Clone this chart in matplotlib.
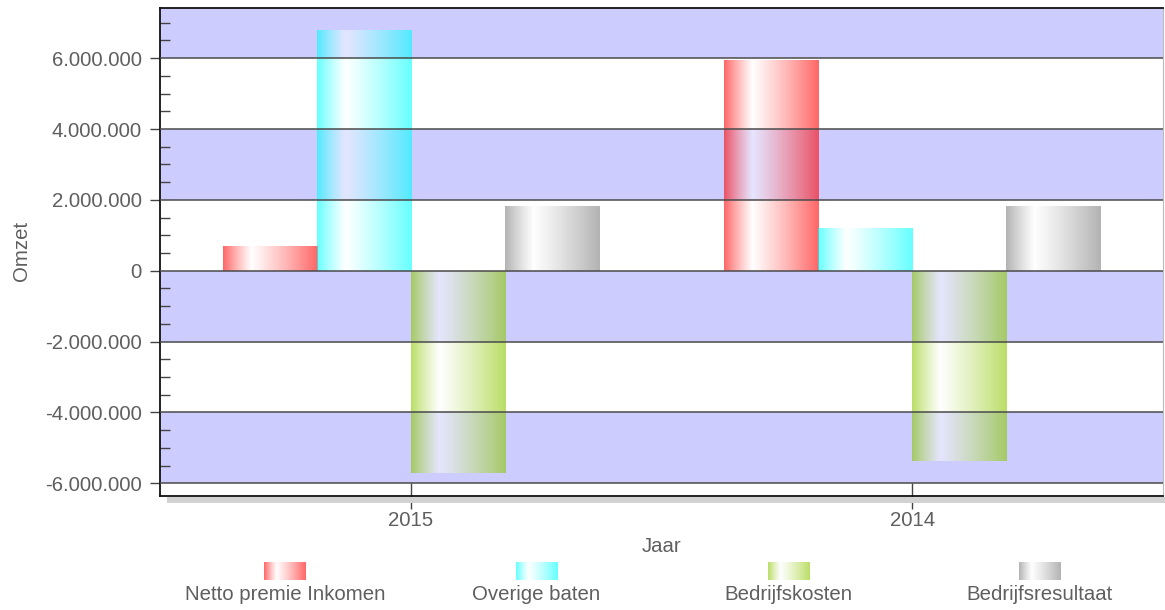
import numpy as np
import matplotlib
matplotlib.use("Agg")
import matplotlib.pyplot as plt
from matplotlib.patches import Rectangle
from matplotlib.ticker import FuncFormatter, MultipleLocator

# ---- data ----
years = ["2015", "2014"]
series_names = ["Netto premie Inkomen", "Overige baten", "Bedrijfskosten", "Bedrijfsresultaat"]
netto_premie = [700000, 5950000]
overige_baten = [6800000, 1205000]
bedrijfskosten = [-5700000, -5360000]
bedrijfsresultaat = [1815000, 1825000]
series_values = [netto_premie, overige_baten, bedrijfskosten, bedrijfsresultaat]
series_colors = [(255, 0, 0), (0, 255, 255), (140, 200, 0), (128, 128, 128)]

major_ticks = [-6000000, -4000000, -2000000, 0, 2000000, 4000000, 6000000]
y_min, y_max = -6350000, 7430000

plt.rcParams['font.family'] = ['Liberation Sans', 'DejaVu Sans']
TXT = '#5f5f5f'
FS = 14.7
W, H = 1165, 610

fig = plt.figure(figsize=(W / 100, H / 100), dpi=100)
ax = fig.add_axes([160 / W, 1 - 495.7 / H, (1163 - 160) / W, (495.7 - 7.5) / H])


def gradient(rgb, n=200):
    c = np.array(rgb, dtype=float) / 255.0
    ca = np.append(c, 0.6)
    wa = np.array([1.0, 1.0, 1.0, 0.5])
    t = np.linspace(0, 1, n)
    img = np.zeros((1, n, 4))
    for i, tt in enumerate(t):
        if tt < 0.3:
            f = tt / 0.3
            img[0, i] = ca * (1 - f) + wa * f
        else:
            f = (tt - 0.3) / 0.7
            img[0, i] = wa * (1 - f) + ca * f
    return img


# bands
bounds = [y_min] + major_ticks + [y_max]
for i in range(len(bounds) - 1):
    if i % 2 == 1:
        ax.axhspan(bounds[i], bounds[i + 1], color='#ccccff', zorder=0, lw=0)

x = np.arange(len(years))
bw = 0.1875
for k, (vals, col) in enumerate(zip(series_values, series_colors)):
    offs = (k - 1.5) * bw
    bars = ax.bar(x + offs, vals, width=bw, color='none', edgecolor='none', zorder=2)
    for b in bars:
        x0, y0 = b.get_x(), b.get_y()
        x1, y1 = x0 + b.get_width(), y0 + b.get_height()
        ax.imshow(gradient(col), extent=[x0, x1, y0, y1], aspect='auto',
                  interpolation='bilinear', zorder=2)

# gridlines on top of bars
for t in major_ticks:
    ax.axhline(t, color='#4a4a4a', lw=1.1, zorder=3)

ax.set_xlim(-0.5, len(years) - 0.5)
ax.set_ylim(y_min, y_max)

ax.set_yticks(major_ticks)
ax.yaxis.set_minor_locator(MultipleLocator(500000))
ax.yaxis.set_major_formatter(FuncFormatter(lambda v, p: f"{v:,.0f}".replace(",", ".")))
ax.tick_params(axis='y', which='major', direction='out', length=7.2, width=1.0,
               color='#444444', labelsize=FS, labelcolor=TXT, pad=6)
ax.tick_params(axis='y', which='minor', direction='in', length=7.2, width=1.0,
               color='#444444')
ax.set_xticks(x)
ax.set_xticklabels(years)
ax.tick_params(axis='x', direction='inout', length=19.4, width=1.0, color='#444444',
               labelsize=FS, labelcolor=TXT, pad=1)

for s in ['left', 'bottom', 'top']:
    ax.spines[s].set_color('#111111')
    ax.spines[s].set_linewidth(1.3)
ax.spines['right'].set_color('#bbbbbb')
ax.spines['right'].set_linewidth(0.8)

# shadow beneath bottom axis
fig.patches.append(Rectangle((167 / W, 1 - 502.5 / H), (1165 - 167) / W, 6 / H,
                             transform=fig.transFigure, facecolor='#d2d2d2',
                             edgecolor='none', zorder=0))

fig.text(661.5 / W, 1 - 546 / H, "Jaar", ha='center', va='center', fontsize=FS, color=TXT)
fig.text(22 / W, 1 - 251 / H, "Omzet", ha='center', va='center', rotation=90,
         fontsize=FS, color=TXT)

# legend
leg_centers = [285, 536.5, 788.5, 1040]
for name, col, cx in zip(series_names, series_colors, leg_centers):
    sax = fig.add_axes([(cx - 21) / W, 1 - 580 / H, 42 / W, 18 / H])
    sax.imshow(gradient(col), extent=[0, 1, 0, 1], aspect='auto', interpolation='bilinear')
    sax.set_axis_off()
    fig.text(cx / W, 1 - 595 / H, name, ha='center', va='center', fontsize=FS, color=TXT)

fig.savefig("out.png", dpi=100)
